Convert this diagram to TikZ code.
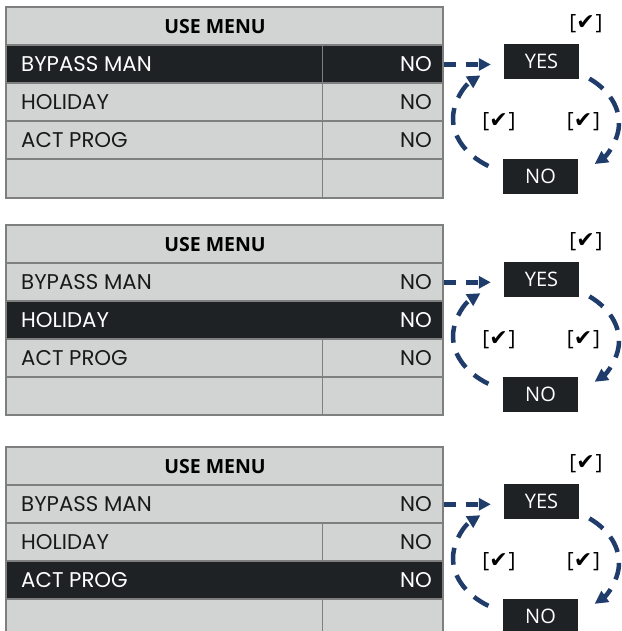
\documentclass[tikz,border=0pt]{standalone}
\usepackage{fontspec}
\setmainfont{Poppins}
\newfontfamily\osfont{Open Sans}
\newfontfamily\djfont{DejaVu Sans}
\usetikzlibrary{arrows.meta,calc}
\definecolor{menugray}{RGB}{210,212,211}
\definecolor{menudark}{RGB}{30,34,37}
\definecolor{gridgray}{RGB}{127,127,127}
\definecolor{flownavy}{RGB}{31,60,107}
\newcommand\chkbox{{\osfont\fontsize{21}{21}\selectfont[}{\djfont\fontsize{22}{22}\selectfont ✔}{\osfont\fontsize{21}{21}\selectfont\kern1pt]}}
\tikzset{
  rowbox/.style={rectangle, draw=none, minimum width=437pt, minimum height=38pt, inner sep=0pt},
  rowtext/.style={inner sep=0pt, font=\fontsize{21.3}{24}\selectfont},
  hdrtext/.style={inner sep=0pt, anchor=base, text=black, font=\osfont\bfseries\fontsize{19.5}{24}\selectfont},
  gridline/.style={draw=gridgray, line width=2pt},
  divline/.style={draw=gridgray, line width=1.2pt},
  choicebox/.style={rectangle, fill=menudark, text=white, minimum width=75pt, minimum height=35pt, inner sep=0pt, font=\osfont\fontsize{20}{24}\selectfont},
  chkmark/.style={inner sep=0pt, text=black},
  flowarrow/.style={draw=flownavy, line width=4.5pt, dash pattern=on 17pt off 11pt, -{Triangle[length=13pt,width=13pt]}},
  selarrow/.style={draw=flownavy, line width=4.5pt, dash pattern=on 12pt off 10pt, -{Triangle[length=12pt,width=12pt]}}
}
% #1 prefix, #2 top y, #3 dark row, #4 rows with divider
\newcommand\menupanel[4]{%
\begin{scope}[shift={(0,#2)}]
  \node[rowbox, fill=menugray] (#1h) at (224.5,19) {};
  \foreach \i in {1,...,4}{%
    \ifnum\i=#3 \def\rowcol{menudark}\else\def\rowcol{menugray}\fi
    \node[rowbox, fill=\rowcol] (#1r\i) at (224.5,38*\i+19) {};
  }
  \foreach \d in {#4}{\draw[divline] (322.5,38*\d) -- (322.5,38*\d+38);}
  \foreach \k in {1,...,4}{\draw[gridline] (6,38*\k) -- (443,38*\k);}
  \draw[gridline] (6,0) rectangle (443,190);
  \node[hdrtext] (#1ht) at (215,26.5) {USE MENU};
  \foreach \i/\lab in {1/BYPASS MAN,2/HOLIDAY,3/ACT PROG}{%
    \ifnum\i=#3 \def\txtcol{white}\else\def\txtcol{black!90}\fi
    \node[rowtext, anchor=base west, text=\txtcol] (#1r\i-l) at (21,38*\i+26.5) {\lab};
    \node[rowtext, anchor=base east, text=\txtcol] (#1r\i-v) at (432,38*\i+26.5) {NO};
  }
  \node[choicebox] (#1yes) at (541.5,54) {YES};
  \node[choicebox] (#1no) at (540.5,169) {NO};
  \node[chkmark] (#1c0) at (586,16.5) {\chkbox};
  \node[chkmark] (#1c1) at (499,114) {\chkbox};
  \node[chkmark] (#1c2) at (583.5,114) {\chkbox};
  \coordinate (#1ca) at (536,111);
  \coordinate (#1cb) at (536,115.5);
  \draw[selarrow, shorten <=1pt, shorten >=13pt] (#1r1.east) -- (#1r1.east -| #1yes.west);
  \draw[flowarrow] ([shift={(125:83 and 58)}]#1ca) arc[start angle=125, end angle=228, x radius=83, y radius=58];
  \draw[flowarrow] ([shift={(-50:83 and 58)}]#1cb) arc[start angle=-50, end angle=45, x radius=83, y radius=58];
\end{scope}}
\begin{document}
\begin{tikzpicture}[x=1pt, y=-1pt]
  \useasboundingbox (0,0) rectangle (621,631);
  \menupanel{p1}{7.5}{1}{1,2,3,4}
  \menupanel{p2}{225.3}{2}{3,4}
  \menupanel{p3}{447.3}{3}{2,4}
\end{tikzpicture}
\end{document}
